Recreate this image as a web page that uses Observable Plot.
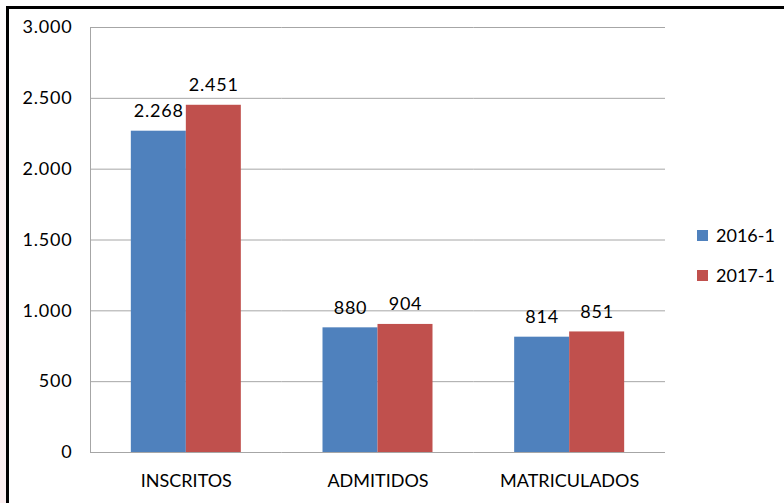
<!DOCTYPE html>
<html><head><meta charset="utf-8">
<script src="https://cdn.jsdelivr.net/npm/d3@7"></script>
<script src="https://cdn.jsdelivr.net/npm/@observablehq/plot@0.6"></script>
<style>
html,body{margin:0;padding:0;background:#fff;}
#wrap{position:relative;width:784px;height:503px;overflow:hidden;font-family:Lato,sans-serif;background:#fff;}
#tint{position:absolute;left:0;top:0;width:6px;height:503px;background:linear-gradient(to bottom,#ffffff 0%,#fcf1f3 30%,#fbeef0 100%);}
#frame{position:absolute;left:6px;top:6px;right:-10px;bottom:-10px;border-left:3px solid #000;border-top:3px solid #000;}
#chart{position:absolute;left:0;top:0;}
#chart g[aria-label="y-axis tick label"] text, #chart g[aria-label="text"] text{letter-spacing:0.8px;}
#legend{position:absolute;left:697px;top:215px;font-family:Lato,sans-serif;font-size:18px;color:#000;}
#legend .item{display:flex;align-items:center;height:40px;}
#legend .sw{display:inline-block;width:11px;height:11px;margin-right:8px;}
</style></head>
<body><div id="wrap"><div id="tint"></div><div id="frame"></div><div id="chart"></div><div id="legend"></div></div>
<script>
const categories = ["INSCRITOS", "ADMITIDOS", "MATRICULADOS"];
const series = ["2016-1", "2017-1"];
const values2016 = [2268, 880, 814];
const values2017 = [2451, 904, 851];
const yTicks = [0, 500, 1000, 1500, 2000, 2500, 3000];
const colors = ["#4F81BD", "#C0504D"];

const data = categories.flatMap((c, i) => [
  {category: c, series: series[0], value: values2016[i]},
  {category: c, series: series[1], value: values2017[i]}
]);

const fmt = d3.formatLocale({decimal: ",", thousands: ".", grouping: [3], currency: ["", ""]}).format(",d");

const chart = Plot.plot({
  width: 700, height: 503,
  marginLeft: 90, marginRight: 35, marginTop: 27, marginBottom: 51,
  style: {fontFamily: "Lato, sans-serif", fontSize: "18px", color: "#000", background: "transparent", overflow: "visible"},
  fx: {domain: categories, padding: 0, round: false, label: null},
  x: {domain: series, paddingInner: 0, paddingOuter: 0.7424, round: false, axis: null},
  y: {domain: [0, 3000], label: null},
  color: {domain: series, range: colors},
  marks: [
    Plot.ruleY(yTicks, {stroke: "#a6a6a6", strokeWidth: 1}),
    Plot.frame({anchor: "left", facetAnchor: "left", stroke: "#a6a6a6"}),
    Plot.barY(data, {fx: "category", x: "series", y: "value", fill: "series"}),
    Plot.text(data, {fx: "category", x: "series", y: "value", text: d => fmt(d.value), lineAnchor: "bottom", dy: -14, fill: "#000"}),
    Plot.axisY(yTicks, {tickSize: 0, tickPadding: 18, tickFormat: fmt, label: null}),
    Plot.axisFx({anchor: "bottom", tickSize: 0, tickPadding: 22, label: null})
  ]
});
document.getElementById("chart").appendChild(chart);

const colorScale = chart.scale("color");
const legend = document.getElementById("legend");
series.forEach(s => {
  const item = document.createElement("div");
  item.className = "item";
  const sw = document.createElement("span");
  sw.className = "sw";
  sw.style.background = colorScale.apply(s);
  const label = document.createElement("span");
  label.textContent = s;
  item.appendChild(sw);
  item.appendChild(label);
  legend.appendChild(item);
});
</script>
</body></html>
